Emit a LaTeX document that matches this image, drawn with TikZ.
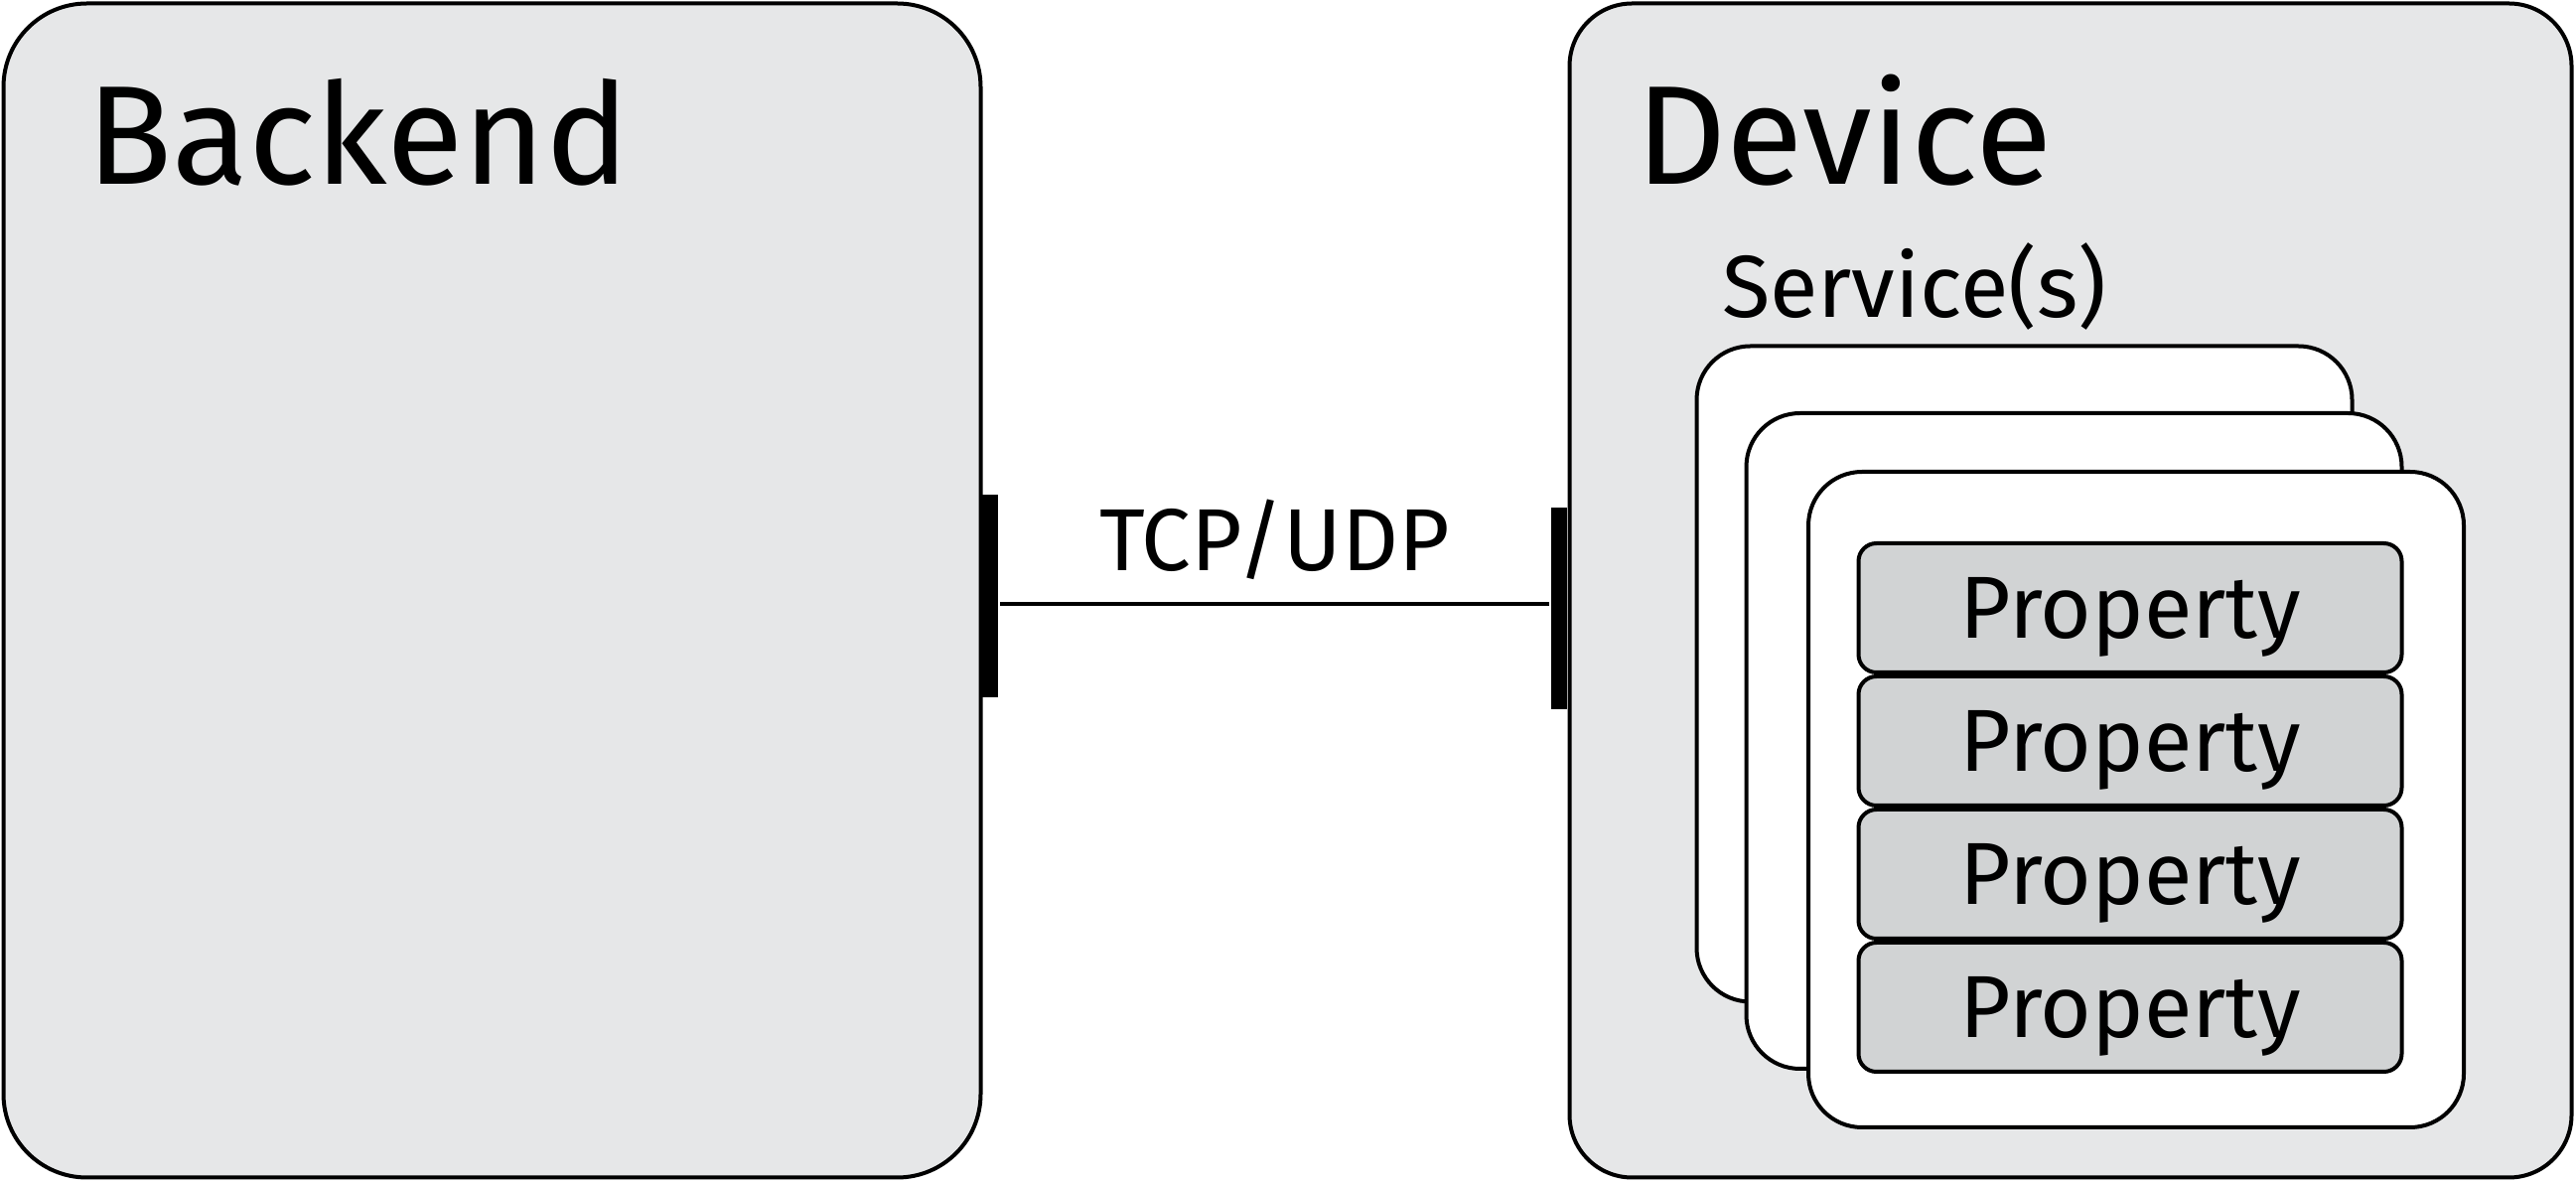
\documentclass[tikz,border=0pt]{standalone}
\usepackage{fontspec}
\setmainfont{Fira Sans}
\usetikzlibrary{positioning}
\definecolor{boxgray}{HTML}{E6E7E8}
\definecolor{propgray}{HTML}{D1D3D4}

\begin{document}
\begin{tikzpicture}[x=0.3pt,y=0.3pt,line width=1.2pt,
    panel/.style={draw,fill=boxgray,minimum height=354.6pt,inner sep=0},
    service/.style={draw,fill=white,rounded corners=16.2pt,minimum size=198pt,inner sep=0},
    prop/.style={draw,fill=propgray,rounded corners=5.4pt,minimum width=164.1pt,minimum height=39pt,
        inner sep=0,text depth=0pt,font=\fontsize{26.6}{32}\selectfont},
    bar/.style={fill=black,inner sep=0,minimum width=4.8pt},
    title/.style={inner sep=0,anchor=base west,font=\fontsize{42.5}{52}\selectfont},
    small/.style={inner sep=0,font=\fontsize{26.6}{32}\selectfont}]
        \useasboundingbox (0,0) rectangle (2594,1190);
        \node[panel,rounded corners=25.2pt,minimum width=295.2pt] (backend) at (495.5,595.5) {};
        \node[panel,rounded corners=18.9pt,minimum width=302.7pt] (device) at (2085,595.5) {};
        \node[title] (backendtitle) at (85,1004) {Backend};
        \node[title] (devicetitle) at (1645,1004) {Device};
        \node[small,anchor=base west] (servicetitle) at (1732,870) {Service(s)};
        \node[service] (s1) at (2038.5,511.5) {};
        \node[service] (s2) at (2088.5,444) {};
        \node[service] (s3) at (2151,385) {};
        \node[prop] (p1) at (2145,578) {Property};
        \foreach \i [count=\j from 2] in {1,2,3}
            \node[prop,below=0pt of p\i] (p\j) {Property};
        \node[bar,minimum height=61.2pt] (lbar) at (997,590) {};
        \node[bar,minimum height=60.9pt] (rbar) at (1570,577.5) {};
        \draw[line width=1.4pt] (lbar.east |- 0,582) -- node[small,anchor=base,yshift=9.9pt] (link) {TCP/UDP} (rbar.west |- 0,582);
    \end{tikzpicture}
\end{document}
